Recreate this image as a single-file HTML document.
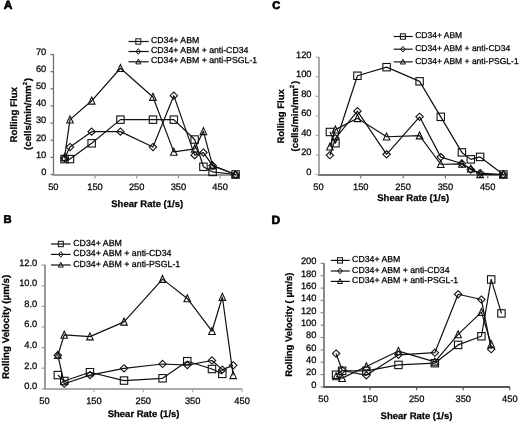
<!DOCTYPE html>
<html><head><meta charset="utf-8"><style>
html,body{margin:0;padding:0;background:#fff;}
svg{display:block;filter:grayscale(1) blur(0.3px);}
text{font-family:"Liberation Sans", sans-serif;text-rendering:geometricPrecision;fill:#000;stroke:#000;stroke-width:0.25px;}
.t{font-size:9.3px;}
.b{font-size:9.5px;font-weight:bold;}
.L{font-size:12px;font-weight:bold;stroke-width:0.7px;}
.ax{stroke:#999;stroke-width:1.8;fill:none;}
.ln{stroke:#111;stroke-width:1.2;fill:none;stroke-linejoin:round;}
.m{stroke:#111;stroke-width:1.1;fill:none;}
.lm{stroke:#111;stroke-width:1.0;fill:none;}
</style></head><body>
<svg width="520" height="422" viewBox="0 0 520 422">
<path d="M53.5,54.02V176" style="stroke:#707070;stroke-width:1.3;fill:none"/>
<path d="M52.85,175H240" style="stroke:#999;stroke-width:2;fill:none"/>
<path d="M50.45,174.5H53.5" style="stroke:#707070;stroke-width:1.2;fill:none"/>
<text x="46.3" y="174.8" class="t" text-anchor="end">0</text>
<path d="M50.45,157.36H53.5" style="stroke:#707070;stroke-width:1.2;fill:none"/>
<text x="46.3" y="157.66" class="t" text-anchor="end">10</text>
<path d="M50.45,140.22H53.5" style="stroke:#707070;stroke-width:1.2;fill:none"/>
<text x="46.3" y="140.52" class="t" text-anchor="end">20</text>
<path d="M50.45,123.08H53.5" style="stroke:#707070;stroke-width:1.2;fill:none"/>
<text x="46.3" y="123.38" class="t" text-anchor="end">30</text>
<path d="M50.45,105.94H53.5" style="stroke:#707070;stroke-width:1.2;fill:none"/>
<text x="46.3" y="106.24" class="t" text-anchor="end">40</text>
<path d="M50.45,88.8H53.5" style="stroke:#707070;stroke-width:1.2;fill:none"/>
<text x="46.3" y="89.1" class="t" text-anchor="end">50</text>
<path d="M50.45,71.66H53.5" style="stroke:#707070;stroke-width:1.2;fill:none"/>
<text x="46.3" y="71.96" class="t" text-anchor="end">60</text>
<path d="M50.45,54.52H53.5" style="stroke:#707070;stroke-width:1.2;fill:none"/>
<text x="46.3" y="54.82" class="t" text-anchor="end">70</text>
<text x="53.3" y="190.2" class="t" text-anchor="middle">50</text>
<path d="M95,175V178.4" style="stroke:#999;stroke-width:1.2;fill:none"/>
<text x="95" y="190.2" class="t" text-anchor="middle">150</text>
<path d="M136.7,175V178.4" style="stroke:#999;stroke-width:1.2;fill:none"/>
<text x="136.7" y="190.2" class="t" text-anchor="middle">250</text>
<path d="M178.4,175V178.4" style="stroke:#999;stroke-width:1.2;fill:none"/>
<text x="178.4" y="190.2" class="t" text-anchor="middle">350</text>
<path d="M220.1,175V178.4" style="stroke:#999;stroke-width:1.2;fill:none"/>
<text x="220.1" y="190.2" class="t" text-anchor="middle">450</text>
<text x="147.2" y="206.7" class="b" text-anchor="middle">Shear Rate (1/s)</text>
<text transform="translate(16.6,114.7) rotate(-90)" x="0" y="0" class="b" text-anchor="middle"><tspan style="font-size:9.7px">Rolling Flux</tspan></text>
<text transform="translate(30.6,113.9) rotate(-90)" x="0" y="0" class="b" text-anchor="middle"><tspan style="font-size:9.7px">(cells/min/mm<tspan font-size="6" dy="-3.9">2</tspan><tspan dx="0.8" dy="3.9">)</tspan></tspan></text>
<text x="3.8" y="9.1" class="L" style="font-size:12px">A</text>
<path d="M64.56,159.07L69.98,159.07L91.66,143.31L120.44,119.65L152.96,119.65L173.81,119.65L194.66,139.53L203.42,166.79L212.59,171.93L235.53,174.5" class="ln"/>
<rect x="60.86" y="155.37" width="7.4" height="7.4" class="m"/>
<rect x="66.28" y="155.37" width="7.4" height="7.4" class="m"/>
<rect x="87.96" y="139.61" width="7.4" height="7.4" class="m"/>
<rect x="116.74" y="115.95" width="7.4" height="7.4" class="m"/>
<rect x="149.26" y="115.95" width="7.4" height="7.4" class="m"/>
<rect x="170.11" y="115.95" width="7.4" height="7.4" class="m"/>
<rect x="190.96" y="135.83" width="7.4" height="7.4" class="m"/>
<rect x="199.72" y="163.09" width="7.4" height="7.4" class="m"/>
<rect x="208.89" y="168.23" width="7.4" height="7.4" class="m"/>
<rect x="231.83" y="170.8" width="7.4" height="7.4" class="m"/>
<path d="M64.56,158.22L69.98,147.08L91.66,131.65L120.44,131.65L152.96,147.08L173.81,95.66L194.66,155.13L203.42,152.56L212.59,165.59L235.53,174.5" class="ln"/>
<path d="M64.56,154.62L68.26,158.22L64.56,161.82L60.86,158.22Z" class="m"/>
<path d="M69.98,143.48L73.68,147.08L69.98,150.68L66.28,147.08Z" class="m"/>
<path d="M91.66,128.05L95.36,131.65L91.66,135.25L87.96,131.65Z" class="m"/>
<path d="M120.44,128.05L124.14,131.65L120.44,135.25L116.74,131.65Z" class="m"/>
<path d="M152.96,143.48L156.66,147.08L152.96,150.68L149.26,147.08Z" class="m"/>
<path d="M173.81,92.06L177.51,95.66L173.81,99.26L170.11,95.66Z" class="m"/>
<path d="M194.66,151.53L198.36,155.13L194.66,158.73L190.96,155.13Z" class="m"/>
<path d="M203.42,148.96L207.12,152.56L203.42,156.16L199.72,152.56Z" class="m"/>
<path d="M212.59,161.99L216.29,165.59L212.59,169.19L208.89,165.59Z" class="m"/>
<path d="M235.53,170.9L239.23,174.5L235.53,178.1L231.83,174.5Z" class="m"/>
<path d="M64.56,157.36L69.98,119.65L91.66,100.8L120.44,68.23L152.96,97.03L173.81,151.88L194.66,148.79L203.42,131.31L212.59,165.59L235.53,174.5" class="ln"/>
<path d="M64.56,153.66L67.86,160.66L61.26,160.66Z" class="m"/>
<path d="M69.98,115.95L73.28,122.95L66.68,122.95Z" class="m"/>
<path d="M91.66,97.1L94.96,104.1L88.36,104.1Z" class="m"/>
<path d="M120.44,64.53L123.74,71.53L117.14,71.53Z" class="m"/>
<path d="M152.96,93.33L156.26,100.33L149.66,100.33Z" class="m"/>
<path d="M173.81,148.18L177.11,155.18L170.51,155.18Z" class="m"/>
<path d="M194.66,145.09L197.96,152.09L191.36,152.09Z" class="m"/>
<path d="M203.42,127.61L206.72,134.61L200.12,134.61Z" class="m"/>
<path d="M212.59,161.89L215.89,168.89L209.29,168.89Z" class="m"/>
<path d="M235.53,170.8L238.83,177.8L232.23,177.8Z" class="m"/>
<path d="M128.5,41.5H148.7" class="ln"/>
<rect x="135.8" y="38.8" width="5" height="5.4" class="lm"/>
<text x="151" y="43.3" class="lg" style="font-size:8.72px">CD34+ ABM</text>
<path d="M128.5,51.5H148.7" class="ln"/>
<path d="M138.3,48.7L140.6,51.5L138.3,54.3L136,51.5Z" class="lm"/>
<text x="151" y="52.9" class="lg" style="font-size:8.72px">CD34+ ABM + anti-CD34</text>
<path d="M128.5,61.8H148.7" class="ln"/>
<path d="M138.3,59.1L140.8,63.9L135.8,63.9Z" class="lm"/>
<text x="151" y="62.8" class="lg" style="font-size:8.72px">CD34+ ABM + anti-PSGL-1</text>
<path d="M45,264.7V389.9" style="stroke:#999;stroke-width:2;fill:none"/>
<path d="M44,389H242.1" style="stroke:#aaa;stroke-width:1.8;fill:none"/>
<path d="M41.6,388.8H45" style="stroke:#999;stroke-width:1.2;fill:none"/>
<text x="37.3" y="389.1" class="t" text-anchor="end">0.0</text>
<path d="M41.6,368.2H45" style="stroke:#999;stroke-width:1.2;fill:none"/>
<text x="37.3" y="368.5" class="t" text-anchor="end">2.0</text>
<path d="M41.6,347.6H45" style="stroke:#999;stroke-width:1.2;fill:none"/>
<text x="37.3" y="347.9" class="t" text-anchor="end">4.0</text>
<path d="M41.6,327H45" style="stroke:#999;stroke-width:1.2;fill:none"/>
<text x="37.3" y="327.3" class="t" text-anchor="end">6.0</text>
<path d="M41.6,306.4H45" style="stroke:#999;stroke-width:1.2;fill:none"/>
<text x="37.3" y="306.7" class="t" text-anchor="end">8.0</text>
<path d="M41.6,285.8H45" style="stroke:#999;stroke-width:1.2;fill:none"/>
<text x="37.3" y="286.1" class="t" text-anchor="end">10.0</text>
<path d="M41.6,265.2H45" style="stroke:#999;stroke-width:1.2;fill:none"/>
<text x="37.3" y="265.5" class="t" text-anchor="end">12.0</text>
<text x="44.5" y="404.2" class="t" text-anchor="middle">50</text>
<path d="M93.9,389V392.3" style="stroke:#aaa;stroke-width:1.2;fill:none"/>
<text x="93.9" y="404.2" class="t" text-anchor="middle">150</text>
<path d="M143.3,389V392.3" style="stroke:#aaa;stroke-width:1.2;fill:none"/>
<text x="143.3" y="404.2" class="t" text-anchor="middle">250</text>
<path d="M192.7,389V392.3" style="stroke:#aaa;stroke-width:1.2;fill:none"/>
<text x="192.7" y="404.2" class="t" text-anchor="middle">350</text>
<path d="M242.1,389V392.3" style="stroke:#aaa;stroke-width:1.2;fill:none"/>
<text x="242.1" y="404.2" class="t" text-anchor="middle">450</text>
<text x="143.6" y="417.2" class="b" text-anchor="middle">Shear Rate (1/s)</text>
<text transform="translate(9.3,326.9) rotate(-90)" x="0" y="0" class="b" text-anchor="middle"><tspan style="font-size:9.75px">Rolling Velocity (µm/s)</tspan></text>
<text x="3.6" y="223.2" class="L" style="font-size:11.2px">B</text>
<path d="M57.84,375.1L64.26,380.97L89.95,372.22L124.03,380.56L162.57,378.29L187.27,361.2L211.97,369.02L222.34,373.87" class="ln"/>
<rect x="54.14" y="371.4" width="7.4" height="7.4" class="m"/>
<rect x="60.56" y="377.27" width="7.4" height="7.4" class="m"/>
<rect x="86.25" y="368.52" width="7.4" height="7.4" class="m"/>
<rect x="120.33" y="376.86" width="7.4" height="7.4" class="m"/>
<rect x="158.87" y="374.59" width="7.4" height="7.4" class="m"/>
<rect x="183.57" y="357.5" width="7.4" height="7.4" class="m"/>
<rect x="208.27" y="365.32" width="7.4" height="7.4" class="m"/>
<rect x="218.64" y="370.17" width="7.4" height="7.4" class="m"/>
<path d="M57.84,355.22L64.26,383.75L89.95,375.1L124.03,368.3L162.57,363.98L187.27,365.11L211.97,360.48L222.34,369.64L233.21,365.32" class="ln"/>
<path d="M57.84,351.62L61.54,355.22L57.84,358.82L54.14,355.22Z" class="m"/>
<path d="M64.26,380.15L67.96,383.75L64.26,387.35L60.56,383.75Z" class="m"/>
<path d="M89.95,371.5L93.65,375.1L89.95,378.7L86.25,375.1Z" class="m"/>
<path d="M124.03,364.7L127.73,368.3L124.03,371.9L120.33,368.3Z" class="m"/>
<path d="M162.57,360.38L166.27,363.98L162.57,367.58L158.87,363.98Z" class="m"/>
<path d="M187.27,361.51L190.97,365.11L187.27,368.71L183.57,365.11Z" class="m"/>
<path d="M211.97,356.88L215.67,360.48L211.97,364.08L208.27,360.48Z" class="m"/>
<path d="M222.34,366.04L226.04,369.64L222.34,373.24L218.64,369.64Z" class="m"/>
<path d="M233.21,361.72L236.91,365.32L233.21,368.92L229.51,365.32Z" class="m"/>
<path d="M57.84,355.22L64.26,334.93L89.95,336.58L124.03,321.85L162.57,279.11L187.27,298.47L211.97,331.22L222.34,297.03L233.21,375.31" class="ln"/>
<path d="M57.84,351.52L61.14,358.52L54.54,358.52Z" class="m"/>
<path d="M64.26,331.23L67.56,338.23L60.96,338.23Z" class="m"/>
<path d="M89.95,332.88L93.25,339.88L86.65,339.88Z" class="m"/>
<path d="M124.03,318.15L127.33,325.15L120.73,325.15Z" class="m"/>
<path d="M162.57,275.41L165.87,282.41L159.27,282.41Z" class="m"/>
<path d="M187.27,294.77L190.57,301.77L183.97,301.77Z" class="m"/>
<path d="M211.97,327.52L215.27,334.52L208.67,334.52Z" class="m"/>
<path d="M222.34,293.33L225.64,300.33L219.04,300.33Z" class="m"/>
<path d="M233.21,371.61L236.51,378.61L229.91,378.61Z" class="m"/>
<path d="M51,244H70.6" class="ln"/>
<rect x="58.3" y="241.3" width="5" height="5.4" class="lm"/>
<text x="73.2" y="245.7" class="lg" style="font-size:8.8px">CD34+ ABM</text>
<path d="M51,254.4H70.6" class="ln"/>
<path d="M60.8,251.6L63.1,254.4L60.8,257.2L58.5,254.4Z" class="lm"/>
<text x="73.2" y="256.1" class="lg" style="font-size:8.8px">CD34+ ABM + anti-CD34</text>
<path d="M51,265H70.6" class="ln"/>
<path d="M60.8,262.3L63.3,267.1L58.3,267.1Z" class="lm"/>
<text x="73.2" y="266.7" class="lg" style="font-size:8.8px">CD34+ ABM + anti-PSGL-1</text>
<path d="M319,56.7V176" style="stroke:#aaa;stroke-width:2;fill:none"/>
<path d="M318,175H505" style="stroke:#777;stroke-width:2;fill:none"/>
<path d="M315.6,174.5H319" style="stroke:#aaa;stroke-width:1.2;fill:none"/>
<text x="311.5" y="174.8" class="t" text-anchor="end">0</text>
<path d="M315.6,154.95H319" style="stroke:#aaa;stroke-width:1.2;fill:none"/>
<text x="311.5" y="155.25" class="t" text-anchor="end">20</text>
<path d="M315.6,135.4H319" style="stroke:#aaa;stroke-width:1.2;fill:none"/>
<text x="311.5" y="135.7" class="t" text-anchor="end">40</text>
<path d="M315.6,115.85H319" style="stroke:#aaa;stroke-width:1.2;fill:none"/>
<text x="311.5" y="116.15" class="t" text-anchor="end">60</text>
<path d="M315.6,96.3H319" style="stroke:#aaa;stroke-width:1.2;fill:none"/>
<text x="311.5" y="96.6" class="t" text-anchor="end">80</text>
<path d="M315.6,76.75H319" style="stroke:#aaa;stroke-width:1.2;fill:none"/>
<text x="311.5" y="77.05" class="t" text-anchor="end">100</text>
<path d="M315.6,57.2H319" style="stroke:#aaa;stroke-width:1.2;fill:none"/>
<text x="311.5" y="57.5" class="t" text-anchor="end">120</text>
<text x="318.5" y="190" class="t" text-anchor="middle">50</text>
<path d="M360.8,175V178.4" style="stroke:#777;stroke-width:1.2;fill:none"/>
<text x="360.8" y="190" class="t" text-anchor="middle">150</text>
<path d="M403.1,175V178.4" style="stroke:#777;stroke-width:1.2;fill:none"/>
<text x="403.1" y="190" class="t" text-anchor="middle">250</text>
<path d="M445.4,175V178.4" style="stroke:#777;stroke-width:1.2;fill:none"/>
<text x="445.4" y="190" class="t" text-anchor="middle">350</text>
<path d="M487.7,175V178.4" style="stroke:#777;stroke-width:1.2;fill:none"/>
<text x="487.7" y="190" class="t" text-anchor="middle">450</text>
<text x="413.2" y="201" class="b" text-anchor="middle">Shear Rate (1/s)</text>
<text transform="translate(283.8,116.4) rotate(-90)" x="0" y="0" class="b" text-anchor="middle">Rolling Flux</text>
<text transform="translate(297.9,116.2) rotate(-90)" x="0" y="0" class="b" text-anchor="middle">(cells/min/mm<tspan font-size="6" dy="-3.9">2</tspan><tspan dx="0.8" dy="3.9">)</tspan></text>
<text x="272.2" y="9" class="L" style="font-size:11px">C</text>
<path d="M329.92,131.98L335.42,143.22L357.42,75.77L386.6,67.17L419.6,81.34L440.75,116.83L461.9,152.41L470.78,159.35L480.09,156.91L503.35,174.5" class="ln"/>
<rect x="326.22" y="128.28" width="7.4" height="7.4" class="m"/>
<rect x="331.72" y="139.52" width="7.4" height="7.4" class="m"/>
<rect x="353.72" y="72.07" width="7.4" height="7.4" class="m"/>
<rect x="382.9" y="63.47" width="7.4" height="7.4" class="m"/>
<rect x="415.9" y="77.64" width="7.4" height="7.4" class="m"/>
<rect x="437.05" y="113.13" width="7.4" height="7.4" class="m"/>
<rect x="458.2" y="148.71" width="7.4" height="7.4" class="m"/>
<rect x="467.08" y="155.65" width="7.4" height="7.4" class="m"/>
<rect x="476.39" y="153.21" width="7.4" height="7.4" class="m"/>
<rect x="499.65" y="170.8" width="7.4" height="7.4" class="m"/>
<path d="M329.92,155.24L335.42,138.33L357.42,111.16L386.6,154.36L419.6,116.83L440.75,157.1L461.9,163.45L470.78,169.61L480.09,173.03L503.35,174.5" class="ln"/>
<path d="M329.92,151.64L333.62,155.24L329.92,158.84L326.22,155.24Z" class="m"/>
<path d="M335.42,134.73L339.12,138.33L335.42,141.93L331.72,138.33Z" class="m"/>
<path d="M357.42,107.56L361.12,111.16L357.42,114.76L353.72,111.16Z" class="m"/>
<path d="M386.6,150.76L390.3,154.36L386.6,157.96L382.9,154.36Z" class="m"/>
<path d="M419.6,113.23L423.3,116.83L419.6,120.43L415.9,116.83Z" class="m"/>
<path d="M440.75,153.5L444.45,157.1L440.75,160.7L437.05,157.1Z" class="m"/>
<path d="M461.9,159.85L465.6,163.45L461.9,167.05L458.2,163.45Z" class="m"/>
<path d="M470.78,166.01L474.48,169.61L470.78,173.21L467.08,169.61Z" class="m"/>
<path d="M480.09,169.43L483.79,173.03L480.09,176.63L476.39,173.03Z" class="m"/>
<path d="M503.35,170.9L507.05,174.5L503.35,178.1L499.65,174.5Z" class="m"/>
<path d="M329.92,146.74L335.42,129.63L357.42,118.29L386.6,136.77L419.6,135.6L440.75,164.24L461.9,163.94L470.78,168.63L480.09,174.3L503.35,174.5" class="ln"/>
<path d="M329.92,143.04L333.22,150.04L326.62,150.04Z" class="m"/>
<path d="M335.42,125.93L338.72,132.93L332.12,132.93Z" class="m"/>
<path d="M357.42,114.59L360.72,121.59L354.12,121.59Z" class="m"/>
<path d="M386.6,133.07L389.9,140.07L383.3,140.07Z" class="m"/>
<path d="M419.6,131.9L422.9,138.9L416.3,138.9Z" class="m"/>
<path d="M440.75,160.54L444.05,167.54L437.45,167.54Z" class="m"/>
<path d="M461.9,160.24L465.2,167.24L458.6,167.24Z" class="m"/>
<path d="M470.78,164.94L474.08,171.94L467.48,171.94Z" class="m"/>
<path d="M480.09,170.6L483.39,177.6L476.79,177.6Z" class="m"/>
<path d="M503.35,170.8L506.65,177.8L500.05,177.8Z" class="m"/>
<path d="M393.7,36.5H412.7" class="ln"/>
<rect x="400.4" y="33.8" width="5" height="5.4" class="lm"/>
<text x="415.2" y="38.2" class="lg" style="font-size:8.5px">CD34+ ABM</text>
<path d="M393.7,49.2H412.7" class="ln"/>
<path d="M402.9,46.4L405.2,49.2L402.9,52L400.6,49.2Z" class="lm"/>
<text x="415.2" y="50.9" class="lg" style="font-size:8.5px">CD34+ ABM + anti-CD34</text>
<path d="M393.7,61.9H412.7" class="ln"/>
<path d="M402.9,59.2L405.4,64L400.4,64Z" class="lm"/>
<text x="415.2" y="63.6" class="lg" style="font-size:8.5px">CD34+ ABM + anti-PSGL-1</text>
<path d="M324,262.9V387.9" style="stroke:#888;stroke-width:2;fill:none"/>
<path d="M323,387H509.8" style="stroke:#555;stroke-width:1.8;fill:none"/>
<path d="M320.6,386.9H324" style="stroke:#888;stroke-width:1.2;fill:none"/>
<text x="316.4" y="387.8" class="t" text-anchor="end">0</text>
<path d="M320.6,374.55H324" style="stroke:#888;stroke-width:1.2;fill:none"/>
<text x="316.4" y="375.45" class="t" text-anchor="end">20</text>
<path d="M320.6,362.2H324" style="stroke:#888;stroke-width:1.2;fill:none"/>
<text x="316.4" y="363.1" class="t" text-anchor="end">40</text>
<path d="M320.6,349.85H324" style="stroke:#888;stroke-width:1.2;fill:none"/>
<text x="316.4" y="350.75" class="t" text-anchor="end">60</text>
<path d="M320.6,337.5H324" style="stroke:#888;stroke-width:1.2;fill:none"/>
<text x="316.4" y="338.4" class="t" text-anchor="end">80</text>
<path d="M320.6,325.15H324" style="stroke:#888;stroke-width:1.2;fill:none"/>
<text x="316.4" y="326.05" class="t" text-anchor="end">100</text>
<path d="M320.6,312.8H324" style="stroke:#888;stroke-width:1.2;fill:none"/>
<text x="316.4" y="313.7" class="t" text-anchor="end">120</text>
<path d="M320.6,300.45H324" style="stroke:#888;stroke-width:1.2;fill:none"/>
<text x="316.4" y="301.35" class="t" text-anchor="end">140</text>
<path d="M320.6,288.1H324" style="stroke:#888;stroke-width:1.2;fill:none"/>
<text x="316.4" y="289" class="t" text-anchor="end">160</text>
<path d="M320.6,275.75H324" style="stroke:#888;stroke-width:1.2;fill:none"/>
<text x="316.4" y="276.65" class="t" text-anchor="end">180</text>
<path d="M320.6,263.4H324" style="stroke:#888;stroke-width:1.2;fill:none"/>
<text x="316.4" y="264.3" class="t" text-anchor="end">200</text>
<text x="323.5" y="402.2" class="t" text-anchor="middle">50</text>
<path d="M370.08,387V390.3" style="stroke:#555;stroke-width:1.2;fill:none"/>
<text x="370.08" y="402.2" class="t" text-anchor="middle">150</text>
<path d="M416.66,387V390.3" style="stroke:#555;stroke-width:1.2;fill:none"/>
<text x="416.66" y="402.2" class="t" text-anchor="middle">250</text>
<path d="M463.24,387V390.3" style="stroke:#555;stroke-width:1.2;fill:none"/>
<text x="463.24" y="402.2" class="t" text-anchor="middle">350</text>
<path d="M509.82,387V390.3" style="stroke:#555;stroke-width:1.2;fill:none"/>
<text x="509.82" y="402.2" class="t" text-anchor="middle">450</text>
<text x="416.5" y="419" class="b" text-anchor="middle">Shear Rate (1/s)</text>
<text transform="translate(292,324.7) rotate(-90)" x="0" y="0" class="b" text-anchor="middle">Rolling Velocity ( µm/s)</text>
<text x="271.6" y="224.1" class="L" style="font-size:12px">D</text>
<path d="M336.08,374.74L342.13,370.84L366.35,370.84L398.49,364.92L434.83,363.19L458.12,344.91L481.41,336.26L491.19,279.45L501.44,313.42" class="ln"/>
<rect x="332.38" y="371.04" width="7.4" height="7.4" class="m"/>
<rect x="338.43" y="367.14" width="7.4" height="7.4" class="m"/>
<rect x="362.65" y="367.14" width="7.4" height="7.4" class="m"/>
<rect x="394.79" y="361.22" width="7.4" height="7.4" class="m"/>
<rect x="431.13" y="359.49" width="7.4" height="7.4" class="m"/>
<rect x="454.42" y="341.21" width="7.4" height="7.4" class="m"/>
<rect x="477.71" y="332.56" width="7.4" height="7.4" class="m"/>
<rect x="487.49" y="275.75" width="7.4" height="7.4" class="m"/>
<rect x="497.74" y="309.72" width="7.4" height="7.4" class="m"/>
<path d="M336.08,353.55L342.13,370.23L366.35,375.35L398.49,354.79L434.83,352.69L458.12,294.27L481.41,299.52L491.19,349.23" class="ln"/>
<path d="M336.08,349.95L339.78,353.55L336.08,357.15L332.38,353.55Z" class="m"/>
<path d="M342.13,366.63L345.83,370.23L342.13,373.83L338.43,370.23Z" class="m"/>
<path d="M366.35,371.75L370.05,375.35L366.35,378.95L362.65,375.35Z" class="m"/>
<path d="M398.49,351.19L402.19,354.79L398.49,358.39L394.79,354.79Z" class="m"/>
<path d="M434.83,349.09L438.53,352.69L434.83,356.29L431.13,352.69Z" class="m"/>
<path d="M458.12,290.67L461.82,294.27L458.12,297.88L454.42,294.27Z" class="m"/>
<path d="M481.41,295.92L485.11,299.52L481.41,303.12L477.71,299.52Z" class="m"/>
<path d="M491.19,345.63L494.89,349.23L491.19,352.83L487.49,349.23Z" class="m"/>
<path d="M336.08,376.4L342.13,378.13L366.35,366.52L398.49,351.08L434.83,361.83L458.12,334.41L481.41,312.18L491.19,344.29" class="ln"/>
<path d="M336.08,372.7L339.38,379.7L332.78,379.7Z" class="m"/>
<path d="M342.13,374.43L345.43,381.43L338.83,381.43Z" class="m"/>
<path d="M366.35,362.82L369.65,369.82L363.05,369.82Z" class="m"/>
<path d="M398.49,347.38L401.79,354.38L395.19,354.38Z" class="m"/>
<path d="M434.83,358.13L438.13,365.13L431.53,365.13Z" class="m"/>
<path d="M458.12,330.71L461.42,337.71L454.82,337.71Z" class="m"/>
<path d="M481.41,308.48L484.71,315.48L478.11,315.48Z" class="m"/>
<path d="M491.19,340.59L494.49,347.59L487.89,347.59Z" class="m"/>
<path d="M330.8,260.4H349.8" class="ln"/>
<rect x="337.5" y="257.7" width="5" height="5.4" class="lm"/>
<text x="352.1" y="262.1" class="lg" style="font-size:8.72px">CD34+ ABM</text>
<path d="M330.8,271H349.8" class="ln"/>
<path d="M340,268.2L342.3,271L340,273.8L337.7,271Z" class="lm"/>
<text x="352.1" y="272.7" class="lg" style="font-size:8.72px">CD34+ ABM + anti-CD34</text>
<path d="M330.8,281.4H349.8" class="ln"/>
<path d="M340,278.7L342.5,283.5L337.5,283.5Z" class="lm"/>
<text x="352.1" y="283.1" class="lg" style="font-size:8.72px">CD34+ ABM + anti-PSGL-1</text>
</svg>
</body></html>
